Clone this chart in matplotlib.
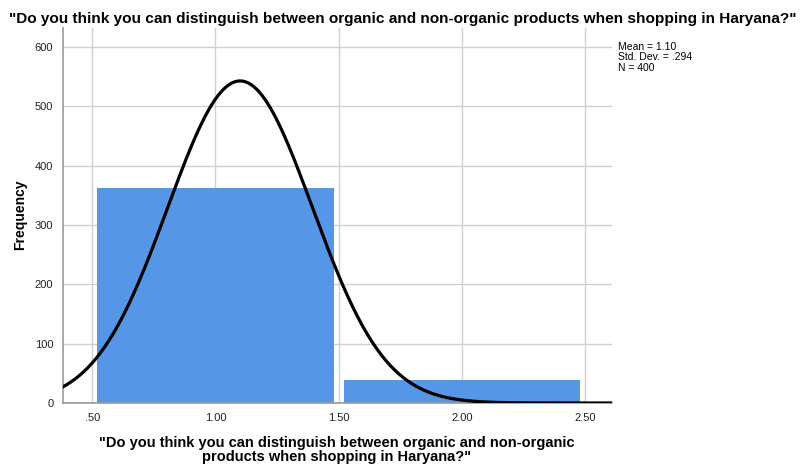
import numpy as np
import matplotlib
matplotlib.use("Agg")
import matplotlib.pyplot as plt

plt.rcParams['font.family'] = ['Liberation Sans', 'DejaVu Sans']

# data
answer_values = [1, 2]
counts = [362, 38]
mean_val = 1.10
std_val = 0.294
n_total = 400
x_ticks = [0.5, 1.0, 1.5, 2.0, 2.5]
x_tick_labels = ['.50', '1.00', '1.50', '2.00', '2.50']
y_ticks = [0, 100, 200, 300, 400, 500, 600]

question = '"Do you think you can distinguish between organic and non-organic products when shopping in Haryana?"'

fig = plt.figure(figsize=(8.06, 4.66), dpi=100)
ax = fig.add_axes([63/806, 63/466, (612-63)/806, (403-28)/466])

ax.bar(answer_values, counts, width=0.96, color='#5596e6', zorder=2)

# normal curve for the given mean / sd, scaled to bin width 1
xs = np.linspace(0.38, 2.62, 400)
ys = n_total * 1.0 / (std_val * np.sqrt(2 * np.pi)) * np.exp(-0.5 * ((xs - mean_val) / std_val) ** 2)
ax.plot(xs, ys, color='black', lw=2.3, zorder=3, clip_on=True)

ax.set_xlim(0.381, 2.61)
ax.set_ylim(0, 632)
ax.set_xticks(x_ticks)
ax.set_xticklabels(x_tick_labels)
ax.set_yticks(y_ticks)
ax.grid(True, color='#d0d0d0', lw=1, zorder=0)
ax.set_axisbelow(True)
ax.tick_params(length=0, labelsize=8, colors='#222222', pad=7)
for s in ['top', 'right']:
    ax.spines[s].set_visible(False)
for s in ['left', 'bottom']:
    ax.spines[s].set_color('#999999')
    ax.spines[s].set_linewidth(1.2)

fig.text(0.5, 1 - 19/466, question, ha='center', va='center', fontsize=11.1, fontweight='bold')
fig.text(20/806, 1 - 215/466, 'Frequency', rotation=90, ha='center', va='center',
         fontsize=10, fontweight='bold')
fig.text(337/806, 1 - 450/466,
         '"Do you think you can distinguish between organic and non-organic\nproducts when shopping in Haryana?"',
         ha='center', va='center', fontsize=10.5, fontweight='bold', linespacing=1.0)

fig.text(618/806, 1 - 42/466, 'Mean = 1.10\nStd. Dev. = .294\nN = 400', ha='left', va='top',
         fontsize=7.5, linespacing=1.05)

fig.savefig('out.png', dpi=100, facecolor='white')
